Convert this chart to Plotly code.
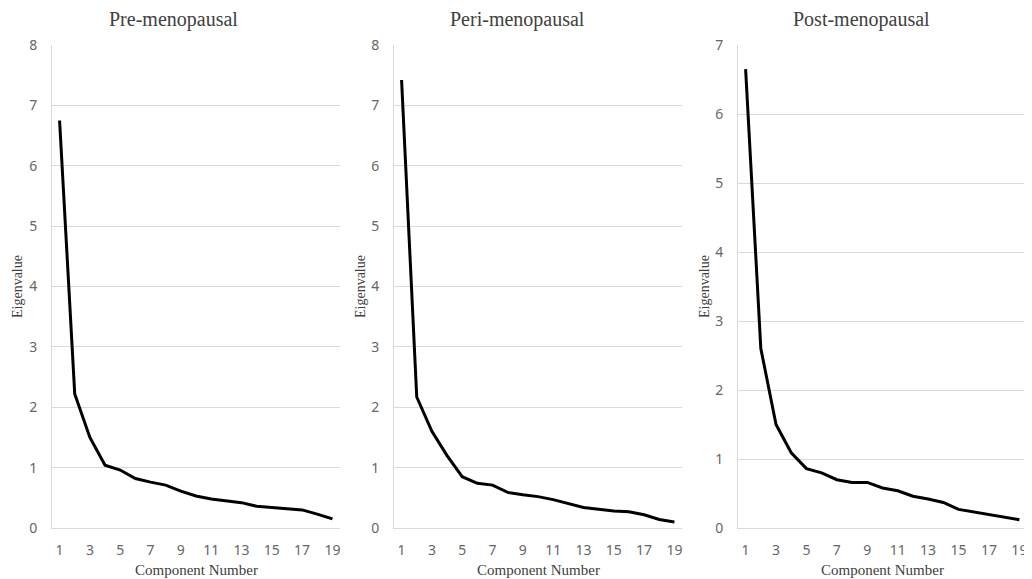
import plotly.graph_objects as go

components = [str(i) for i in range(1, 20)]
x_tick_labels = [str(i) for i in range(1, 20, 2)]

pre_menopausal = [6.75, 2.22, 1.50, 1.04, 0.96, 0.82, 0.76, 0.71, 0.61, 0.53,
                  0.48, 0.45, 0.42, 0.36, 0.34, 0.33, 0.30, 0.23, 0.15]
peri_menopausal = [7.42, 2.17, 1.60, 1.20, 0.85, 0.74, 0.71, 0.59, 0.55, 0.52,
                   0.47, 0.41, 0.34, 0.31, 0.28, 0.27, 0.22, 0.14, 0.10]
post_menopausal = [6.65, 2.60, 1.50, 1.09, 0.86, 0.80, 0.70, 0.66, 0.66, 0.58,
                   0.54, 0.46, 0.42, 0.37, 0.27, 0.23, 0.19, 0.16, 0.12]

titles = ["Pre-menopausal", "Peri-menopausal", "Post-menopausal"]
series = [pre_menopausal, peri_menopausal, post_menopausal]
y_max = [8, 8, 7]

# page body has an 8px default margin; size the figure so it fits the window
PAGE_OFF = 8
W, H = 1032 - PAGE_OFF, 579 - PAGE_OFF


def fx(px):
    return (px - PAGE_OFF) / W


def fy(py):
    return (H - (py - PAGE_OFF)) / H


plot_left = [52, 394, 738]
plot_right = [340, 682, 1027]
plot_top, plot_bottom = 45, 528
title_centers = [173, 517, 861]
ylabel_x = [17, 360, 704]

fig = go.Figure()
serif = "Liberation Serif, Times New Roman, serif"
sans = "Noto Sans, Liberation Sans, sans-serif"
grid = "#d9d9d9"
tick_color = "#666666"

annotations = []
for i in range(3):
    sfx = "" if i == 0 else str(i + 1)
    fig.add_trace(go.Scatter(
        x=components, y=series[i], mode="lines",
        line=dict(color="black", width=3),
        xaxis="x" + sfx, yaxis="y" + sfx, showlegend=False,
    ))
    xd = [fx(plot_left[i]), fx(plot_right[i])]
    yd = [fy(plot_bottom), fy(plot_top)]
    fig.update_layout(**{
        "xaxis" + sfx: dict(
            domain=xd, type="category", categoryorder="array",
            categoryarray=components, tickvals=x_tick_labels,
            ticktext=x_tick_labels, range=[-0.5, 18.5],
            showgrid=False, showline=True, linecolor=grid, linewidth=1,
            ticks="", ticklabelstandoff=9, automargin=False,
            tickfont=dict(family=sans, size=14, color=tick_color),
            anchor="y" + sfx, fixedrange=True,
        ),
        "yaxis" + sfx: dict(
            domain=yd, range=[0, y_max[i]], dtick=1,
            showgrid=True, gridcolor=grid, gridwidth=1,
            showline=True, linecolor=grid, linewidth=1,
            zeroline=False, ticks="", ticklabelstandoff=11, automargin=False,
            tickfont=dict(family=sans, size=14, color=tick_color),
            anchor="x" + sfx, fixedrange=True,
        ),
    })
    annotations.append(dict(
        text=titles[i], x=fx(title_centers[i]), y=fy(20),
        xref="paper", yref="paper", showarrow=False,
        font=dict(family=serif, size=20, color="#404040"),
        xanchor="center", yanchor="middle",
    ))
    annotations.append(dict(
        text="Eigenvalue", x=fx(ylabel_x[i]), y=fy(287),
        xref="paper", yref="paper", showarrow=False, textangle=-90,
        font=dict(family=serif, size=14, color="#404040"),
        xanchor="center", yanchor="middle",
    ))
    annotations.append(dict(
        text="Component Number",
        x=fx((plot_left[i] + plot_right[i]) / 2), y=fy(570),
        xref="paper", yref="paper", showarrow=False,
        font=dict(family=serif, size=15, color="#404040"),
        xanchor="center", yanchor="middle",
    ))

fig.update_layout(
    width=W, height=H, margin=dict(l=0, r=0, t=0, b=0, autoexpand=False),
    paper_bgcolor="white", plot_bgcolor="white",
    annotations=annotations,
)

fig.write_html("out.html")
